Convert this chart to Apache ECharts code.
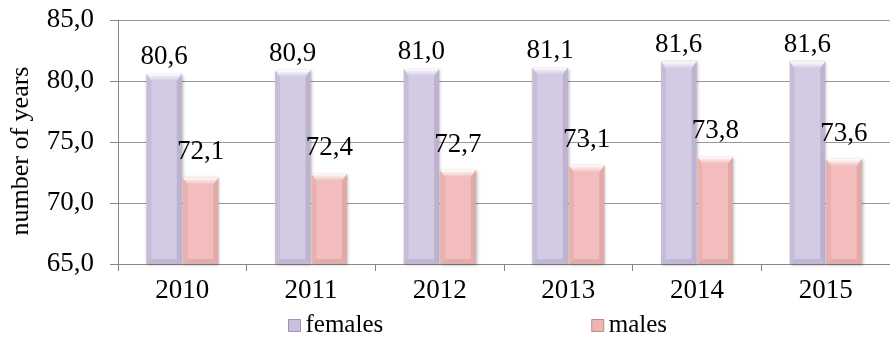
<!DOCTYPE html>
<html><head><meta charset="utf-8">
<script src="https://cdn.jsdelivr.net/npm/echarts@6/dist/echarts.min.js"></script>
<style>html,body{margin:0;padding:0;background:#fff}#c{width:890px;height:340px}</style>
</head><body><div id="c"></div>
<script>
const categories = ['2010','2011','2012','2013','2014','2015'];
const females = [80.6, 80.9, 81.0, 81.1, 81.6, 81.6];
const males = [72.1, 72.4, 72.7, 73.1, 73.8, 73.6];
const seriesNames = ['females','males'];
const yTicks = {min: 65, max: 85, interval: 5};

const FONT = 'Liberation Serif';
const fmt = v => v.toFixed(1).replace('.', ',');

// bevelled bar drawn through the value/category scales
function bevelBar(base, dark, side, labelGap){
  return function(params, api){
    const cat = api.value(0), val = api.value(1);
    const top = api.coord([cat, val]);
    const bot = api.coord([cat, yTicks.min]);
    const bw = api.size([1, 0])[0] * 0.276;
    const cx = top[0] + side * (bw / 2 + 0.5);
    const x0 = cx - bw / 2, x1 = cx + bw / 2, y0 = top[1], y1 = bot[1];
    const b = 5;
    return {type:'group', children:[
      {type:'rect', shape:{x:x0, y:y0, width:bw, height:y1-y0},
       style:{fill:base, shadowColor:'rgba(0,0,0,0.3)', shadowBlur:3, shadowOffsetX:1, shadowOffsetY:1}},
      {type:'polygon', shape:{points:[[x0,y0],[x0+b,y0+b],[x0+b,y1-b],[x0,y1]]}, style:{fill:dark, opacity:0.16}},
      {type:'polygon', shape:{points:[[x1,y0],[x1-b,y0+b],[x1-b,y1-b],[x1,y1]]}, style:{fill:dark, opacity:0.3}},
      {type:'polygon', shape:{points:[[x0,y1],[x0+b,y1-b],[x1-b,y1-b],[x1,y1]]}, style:{fill:dark, opacity:0.25}},
      {type:'polygon', shape:{points:[[x0,y0],[x1,y0],[x1-b,y0+b+2],[x0+b,y0+b+2]]},
       style:{fill:{type:'linear',x:0,y:0,x2:0,y2:1,colorStops:[{offset:0,color:'#fff'},{offset:1,color:base}]}}},
      {type:'text', x:cx, y:y0-labelGap,
       style:{text:fmt(val), textAlign:'center', textVerticalAlign:'bottom', fill:'#000',
              fontFamily:FONT, fontSize:27}}
    ]};
  };
}

const chart = echarts.init(document.getElementById('c'), null, {renderer:'canvas'});
chart.setOption({
  animation:false,
  textStyle:{fontFamily:FONT},
  grid:{left:117, top:20, width:782, height:244, containLabel:false},
  legend:{
    left:283, top:308, itemWidth:12, itemHeight:12, itemGap:208,
    textStyle:{fontFamily:FONT, fontSize:25, color:'#000'},
    data:[{name:seriesNames[0], icon:'rect', itemStyle:{color:'#C9C0DC', borderColor:'#9C92B8', borderWidth:1}},
          {name:seriesNames[1], icon:'rect', itemStyle:{color:'#EDB5B4', borderColor:'#C08A89', borderWidth:1}}]
  },
  xAxis:{
    type:'category', data:categories,
    axisLine:{lineStyle:{color:'#888'}},
    axisTick:{show:true, length:7, lineStyle:{color:'#888'}},
    axisLabel:{fontFamily:FONT, fontSize:27, color:'#000', margin:13}
  },
  yAxis:{
    type:'value', min:yTicks.min, max:yTicks.max, interval:yTicks.interval,
    name:'number of years', nameLocation:'middle', nameGap:84, nameRotate:90,
    nameTextStyle:{fontFamily:FONT, fontSize:26, color:'#000', padding:[0,18,0,0]},
    axisLine:{show:true, lineStyle:{color:'#888'}},
    axisTick:{show:true, length:8, lineStyle:{color:'#888'}},
    splitLine:{lineStyle:{color:'#999'}},
    axisLabel:{fontFamily:FONT, fontSize:27, color:'#000', margin:24, formatter:v=>fmt(v)}
  },
  series:[
    {name:seriesNames[0], type:'custom', data:females.map((v,i)=>[i,v]),
     renderItem:bevelBar('#D3CAE3','#8A7FAA',-1,3), encode:{x:0,y:1}},
    {name:seriesNames[1], type:'custom', data:males.map((v,i)=>[i,v]),
     renderItem:bevelBar('#F2BDBC','#B97C7B',1,12), encode:{x:0,y:1}}
  ]
});
</script></body></html>
